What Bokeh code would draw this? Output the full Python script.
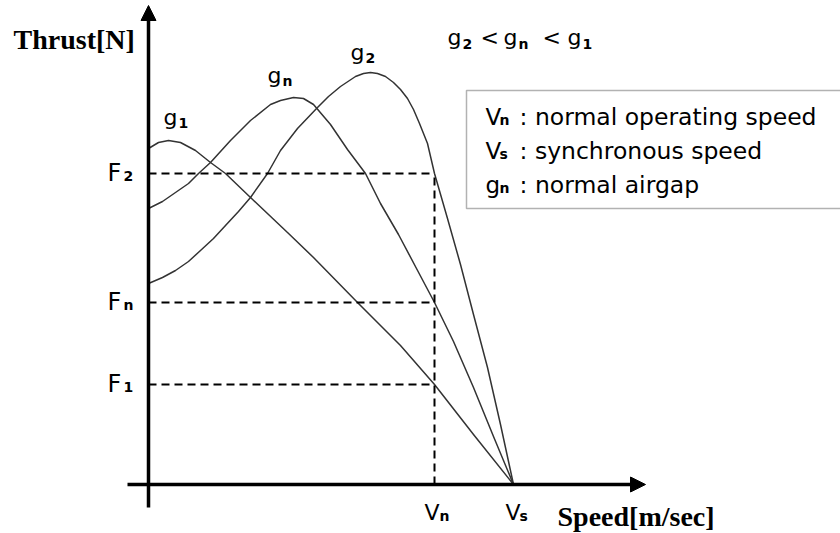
from bokeh.plotting import figure
from bokeh.models import Arrow, NormalHead, BoxAnnotation, Range1d
from bokeh.embed import file_html
from bokeh.resources import INLINE
from bokeh.core.properties import value

# ---- curve data (speed, thrust) in arbitrary chart units ----
g1_speed = [0, 10, 20, 32, 47, 62, 77, 102, 139, 165, 209, 252, 286, 325, 365]
g1_thrust = [336, 342, 344, 342, 334, 322, 311, 287, 252, 227, 182, 139, 100, 50, 0]

gn_speed = [0, 14, 27, 40, 50, 62, 82, 102, 122, 132, 145, 155, 165, 182, 199, 217,
            232, 250, 268, 286, 305, 325, 345, 365]
gn_thrust = [276, 283, 292, 301, 311, 322, 344, 364, 380, 384, 387, 386, 380, 360, 335, 311,
             281, 250, 216, 182, 143, 97, 48, 0]

g2_speed = [0, 14, 27, 40, 52, 65, 77, 90, 102, 119, 132, 149, 169, 180, 192, 207, 215, 222,
            229, 237, 245, 252, 259, 265, 271, 279, 286, 299, 312, 325, 339, 352, 365]
g2_thrust = [201, 207, 214, 223, 234, 246, 259, 273, 287, 311, 334, 356, 377, 388, 398, 408,
             411, 412, 411, 408, 402, 395, 386, 375, 361, 341, 311, 266, 220, 170, 117, 60, 0]

# reference levels
F_levels = [311, 182, 100]          # F2, Fn, F1
F_subs = ["2", "n", "1"]
V_n = 286                           # normal operating speed
V_s = 365                           # synchronous speed
V_subs = ["n", "s"]

legend_main = ["V", "V", "g"]
legend_subs = ["n", "s", "n"]
legend_text = [": normal operating speed", ": synchronous speed", ": normal airgap"]

y_label = "Thrust[N]"
x_label = "Speed[m/sec]"

SANS = value("DejaVu Sans")
SERIF = value("Liberation Serif")
BASE = 10   # lift applied to alphabetic baselines

p = figure(width=840, height=533, output_backend="svg", toolbar_location=None,
           x_range=Range1d(-148, 692), y_range=Range1d(-49, 484),
           x_axis_location=None, y_axis_location=None, min_border=0)
p.grid.visible = False
p.outline_line_color = None
p.background_fill_color = "white"
p.border_fill_color = "white"

# thrust-speed characteristics
curve_color = "#333333"
for xs, ys in [(g1_speed, g1_thrust), (gn_speed, gn_thrust), (g2_speed, g2_thrust)]:
    p.line(xs, ys, line_color=curve_color, line_width=1.5, line_join="round")

# dashed guides at the operating point
for f in F_levels:
    p.line([0, V_n], [f, f], line_color="black", line_width=2, line_dash="8 5")
p.line([V_n, V_n], [0, F_levels[0]], line_color="black", line_width=2, line_dash="8 5")

# axes with arrow heads
p.add_layout(Arrow(end=NormalHead(size=15, fill_color="black", line_color="black", line_width=1),
                   x_start=0, y_start=-23, x_end=0, y_end=479,
                   line_color="black", line_width=3.5))
p.add_layout(Arrow(end=NormalHead(size=15, fill_color="black", line_color="black", line_width=1),
                   x_start=-21, y_start=0, x_end=497, y_end=0,
                   line_color="black", line_width=3.5))


def label(x, y, txt, size=22, font=SANS, style="normal"):
    p.text(x=[x], y=[y + BASE], text=[txt], text_font=font, text_font_size=f"{size}px",
           text_font_style=style, text_baseline="alphabetic", text_align="left",
           text_color="black")


def subscripted(x, y, main, sub, main_size=22, sub_size=14, sub_dx=15, sub_dy=-4):
    label(x, y, main, size=main_size)
    label(x + sub_dx, y + sub_dy, sub, size=sub_size, style="bold")


# axis titles
label(-135, 435, y_label, size=28, font=SERIF, style="bold")
label(409, -42, x_label, size=28, font=SERIF, style="bold")

# F labels on the thrust axis
for f, s in zip(F_levels, F_subs):
    subscripted(-41, f - 9, "F", s, main_size=24, sub_dx=16, sub_dy=-3)

# V labels on the speed axis
subscripted(V_n - 10, -38, "V", V_subs[0], sub_dx=15, sub_dy=-3)
subscripted(V_s - 8, -38, "V", V_subs[1], sub_dx=14, sub_dy=-3)

# curve names
subscripted(15, 357, "g", "1", sub_dx=15, sub_dy=-5)
subscripted(119, 399, "g", "n", sub_dx=15, sub_dy=-5)
subscripted(202, 422, "g", "2", sub_dx=15, sub_dy=-5)

# ordering of air gaps
subscripted(299, 437, "g", "2", sub_dx=15, sub_dy=-6)
label(332, 437, "<")
subscripted(355, 437, "g", "n", sub_dx=15, sub_dy=-6)
label(394, 437, "<")
subscripted(419, 437, "g", "1", sub_dx=15, sub_dy=-6)

# legend box
p.add_layout(BoxAnnotation(left=318, right=720, bottom=276, top=394,
                           fill_alpha=0, line_color="black", line_width=1.5))
legend_rows = [358, 324, 290]
for ry, m, s, t in zip(legend_rows, legend_main, legend_subs, legend_text):
    subscripted(337, ry, m, s, main_size=23, sub_dx=14, sub_dy=-3)
    label(371, ry, t, size=23.5)

open("out.html", "w").write(file_html(p, INLINE))
